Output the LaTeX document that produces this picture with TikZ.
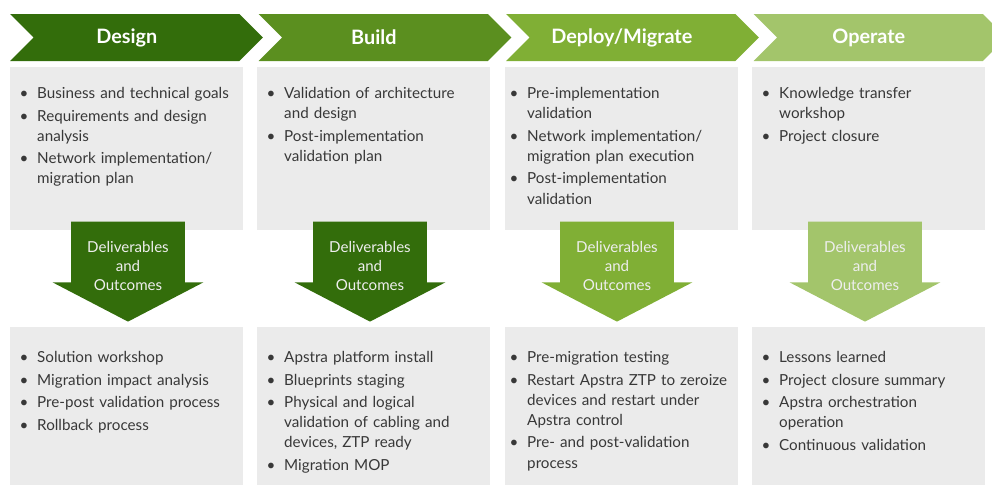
\documentclass[tikz,border=0pt]{standalone}
\usepackage{fontspec}
\setmainfont{Lato}
\usepackage{enumitem}
\usetikzlibrary{shapes.symbols,shapes.arrows}

\definecolor{cdesign}{HTML}{336D0B}
\definecolor{cbuild}{HTML}{5B8F1F}
\definecolor{cdeploy}{HTML}{80AF35}
\definecolor{coperate}{HTML}{A3C56B}
\definecolor{boxgray}{HTML}{EBEBEB}
\definecolor{textgray}{HTML}{383838}
\definecolor{arrowtxt}{HTML}{EEEEEE}

\newcommand{\phaselist}[1]{%
  \begin{itemize}[leftmargin=7.9pt,labelsep=5pt,itemsep=1.3pt,topsep=0pt,parsep=0pt,partopsep=0pt]
  #1
  \end{itemize}}

\begin{document}
\begin{tikzpicture}[x=0.02cm, y=-0.02cm,
	phase/.style={shape=signal, signal from=west, signal to=east, minimum width=5.06cm, minimum height=0.94cm, inner sep=0pt},
	phasetxt/.style={text=white, font=\fontsize{11.3}{12}\selectfont\bfseries},
	box/.style={fill=boxgray, anchor=north west, minimum width=4.66cm, inner sep=0pt},
	list/.style={anchor=north west, inner sep=0pt, text width=4.5cm, align=left, text=textgray, font=\fontsize{8.65}{11.5}\selectfont},
	deliv/.style={shape=single arrow, shape border rotate=270, anchor=tip, text width=2.26cm, minimum width=3cm, minimum height=2cm, single arrow head extend=0.37cm, single arrow tip angle=125, inner sep=0pt},
	delivtxt/.style={align=center, text=arrowtxt, font=\fontsize{8.6}{10.8}\selectfont}
	]
	
	\useasboundingbox (0,0) rectangle (992,485);
	
	\node[phase, fill=cdesign] (pdesign) at (136.5, 37.5) {};
	\node[phase, fill=cbuild] (pbuild) at (385, 37.5) {};
	\node[phase, fill=cdeploy] (pdeploy) at (632.5, 37.5) {};
	\node[phase, fill=coperate] (poperate) at (880, 37.5) {};
	
	\node[box, minimum height=3.26cm] (tdesign) at (10, 67) {};
	\node[box, minimum height=3.26cm] (tbuild) at (257, 67) {};
	\node[box, minimum height=3.26cm] (tdeploy) at (505, 67) {};
	\node[box, minimum height=3.26cm] (toperate) at (752, 67) {};
	
	\node[box, minimum height=3.16cm] (bdesign) at (10, 327) {};
	\node[box, minimum height=3.16cm] (bbuild) at (257, 327) {};
	\node[box, minimum height=3.16cm] (bdeploy) at (505, 327) {};
	\node[box, minimum height=3.16cm] (boperate) at (752, 327) {};
	
	\node[phasetxt] (ldesign) at (pdesign -| tdesign) {Design};
	\node[phasetxt] (lbuild) at (pbuild -| tbuild) {Build};
	\node[phasetxt] (ldeploy) at (pdeploy -| tdeploy) {Deploy/Migrate};
	\node[phasetxt] (loperate) at (poperate -| toperate) {Operate};
	
	\node[deliv, fill=cdesign] (adesign) at (128, 322) {};
	\node[deliv, fill=cdesign] (abuild) at (370, 322) {};
	\node[deliv, fill=cdeploy] (adeploy) at (617, 322) {};
	\node[deliv, fill=coperate] (aoperate) at (865, 322) {};
	
	\node[delivtxt] (ddesign) at ([yshift=-0.9cm]adesign.tail) {Deliverables\\and\\Outcomes};
	\node[delivtxt] (dbuild) at ([yshift=-0.9cm]abuild.tail) {Deliverables\\and\\Outcomes};
	\node[delivtxt] (ddeploy) at ([yshift=-0.9cm]adeploy.tail) {Deliverables\\and\\Outcomes};
	\node[delivtxt] (doperate) at ([yshift=-0.9cm]aoperate.tail) {Deliverables\\and\\Outcomes};
	
	% activities
	\node[list] (xdesign) at ([xshift=0.26cm, yshift=-0.22cm]tdesign.north west) {\phaselist{
		\item Business and technical goals
		\item Requirements and design\\analysis
		\item Network implementation/\\migration plan}};
	\node[list] (xbuild) at ([xshift=0.26cm, yshift=-0.22cm]tbuild.north west) {\phaselist{
		\item Validation of architecture\\and design
		\item Post-implementation\\validation plan}};
	\node[list] (xdeploy) at ([xshift=0.16cm, yshift=-0.22cm]tdeploy.north west) {\phaselist{
		\item Pre-implementation\\validation
		\item Network implementation/\\migration plan execution
		\item Post-implementation\\validation}};
	\node[list] (xoperate) at ([xshift=0.26cm, yshift=-0.22cm]toperate.north west) {\phaselist{
		\item Knowledge transfer\\workshop
		\item Project closure}};
	
	% deliverables
	\node[list] (ydesign) at ([xshift=0.26cm, yshift=-0.30cm]bdesign.north west) {\phaselist{
		\item Solution workshop
		\item Migration impact analysis
		\item Pre-post validation process
		\item Rollback process}};
	\node[list] (ybuild) at ([xshift=0.26cm, yshift=-0.30cm]bbuild.north west) {\phaselist{
		\item Apstra platform install
		\item Blueprints staging
		\item Physical and logical\\validation of cabling and\\devices, ZTP ready
		\item Migration MOP}};
	\node[list] (ydeploy) at ([xshift=0.16cm, yshift=-0.30cm]bdeploy.north west) {\phaselist{
		\item Pre-migration testing
		\item Restart Apstra ZTP to zeroize\\devices and restart under\\Apstra control
		\item Pre- and post-validation\\process}};
	\node[list] (yoperate) at ([xshift=0.26cm, yshift=-0.30cm]boperate.north west) {\phaselist{
		\item Lessons learned
		\item Project closure summary
		\item Apstra orchestration\\operation
		\item Continuous validation}};

\end{tikzpicture}
\end{document}
